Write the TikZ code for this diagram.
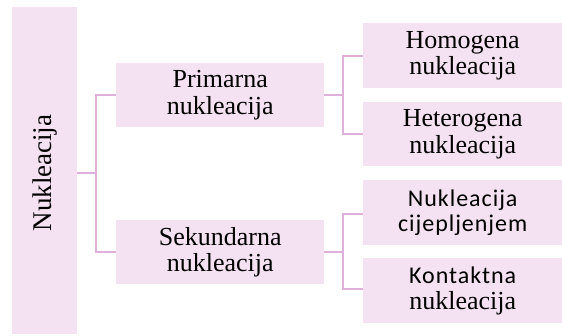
\documentclass[tikz,border=0pt]{standalone}
\usepackage{fontspec}
\setmainfont{Liberation Serif}
\newfontfamily\calib[LetterSpace=4]{Carlito}
\definecolor{boxfill}{HTML}{F4E1F1}
\definecolor{linkcol}{HTML}{DFB0DC}
\begin{document}
\begin{tikzpicture}[x=1pt,y=-1pt,
  bx/.style={fill=boxfill,draw=none,inner sep=0pt,align=center,
    font=\fontsize{26}{26.5}\selectfont},
  cf/.style={font=\calib\fontsize{24}{25}\selectfont},
  link/.style={draw=linkcol,line width=2.6pt}]
\useasboundingbox (0,0) rectangle (562,335);
% root
\node[bx,minimum width=65,minimum height=327,anchor=north west] (root) at (12,7) {};
\node[rotate=90,font=\fontsize{27}{27}\selectfont] (roottxt) at (45,173) {Nukleacija};
% level 2
\node[bx,minimum width=208,minimum height=64,anchor=north west] (prim) at (116,63) {Primarna\\nukleacija};
\node[bx,minimum width=208,minimum height=64,anchor=north west] (sek) at (116,220) {Sekundarna\\nukleacija};
% level 3
\node[bx,minimum width=199,minimum height=65,anchor=north west] (hom) at (363,23) {Homogena\\nukleacija};
\node[bx,minimum width=199,minimum height=64,anchor=north west] (het) at (363,102) {Heterogena\\nukleacija};
\node[bx,minimum width=199,minimum height=65,anchor=north west,cf] (cij) at (363,180) {Nukleacija\\cijepljenjem};
\node[bx,minimum width=199,minimum height=65,anchor=north west] (kon) at (363,258) {{\calib\fontsize{24}{25}\selectfont Kontaktna}\\nukleacija};
% connectors
\coordinate (j1) at (96,173);
\draw[link] (root.east |- j1) -- (j1);
\draw[link] (prim.west |- 0,95) -| (j1) |- (sek.west |- 0,252);
\coordinate (j2) at (343,95);
\coordinate (j3) at (343,252);
\draw[link] (prim.east |- j2) -- (j2);
\draw[link] (hom.west |- 0,56) -| (j2) |- (het.west |- 0,134);
\draw[link] (sek.east |- j3) -- (j3);
\draw[link] (cij.west |- 0,214) -| (j3) |- (kon.west |- 0,289);
\end{tikzpicture}
\end{document}
